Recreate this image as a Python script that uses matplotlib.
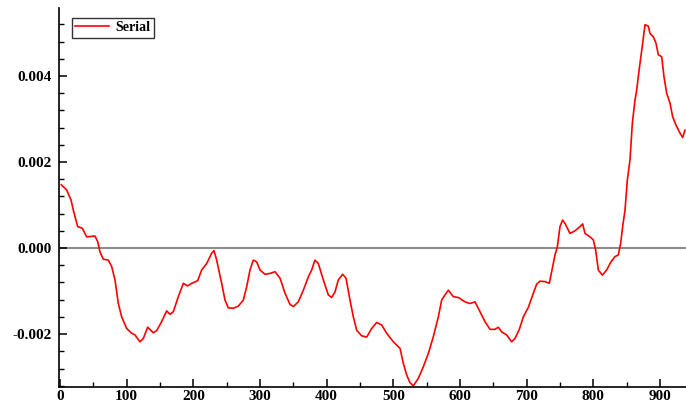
import matplotlib
matplotlib.use("Agg")
import matplotlib.pyplot as plt
from matplotlib.ticker import FixedLocator, MultipleLocator, FormatStrFormatter

x_vals = [2, 10, 16.5, 20, 26.5, 33.5, 40, 52.5, 56.5, 60, 65, 72.5, 77.5, 82.5, 87.5, 92.5,
          100, 107.5, 112.5, 120, 125, 131.5, 140, 145, 152.5, 160, 165, 170, 177.5, 185,
          191.5, 197.5, 206.5, 212.5, 220, 227.5, 231, 235, 242.5, 247.5, 252.5, 260, 267.5,
          275, 280, 285, 290, 295, 300, 307.5, 315, 322.5, 330, 337.5, 345, 350, 357.5, 365,
          372.5, 377.5, 382.5, 387.5, 395, 402.5, 407.5, 412.5, 417.5, 424, 429, 435, 440,
          445, 452.5, 460, 467.5, 475, 482.5, 490, 500, 510, 515, 520, 525, 530, 537.5, 545,
          552.5, 560, 567.5, 572.5, 577.5, 582.5, 590, 597.5, 607.5, 615, 622.5, 630, 637.5,
          645, 652.5, 657.5, 662.5, 670, 677.5, 682.5, 689, 695, 702.5, 710, 715, 720, 727.5,
          734, 737.5, 742.5, 746, 750, 754, 757.5, 765, 772.5, 780, 784, 787.5, 795, 800,
          803.5, 807.5, 813.5, 820, 826.5, 832.5, 837.5, 841, 844, 847.5, 851, 855, 858.5,
          862.5, 865, 869, 874, 877.5, 882.5, 885, 890, 894, 897.5, 902.5, 906, 910, 915, 919,
          924, 930, 934, 937.5]

serial_vals = [0.00147, 0.00135, 0.00112, 0.00088, 0.00050, 0.00046, 0.00026, 0.00028, 0.00015,
               -0.00009, -0.00026, -0.00028, -0.00043, -0.00074, -0.00129, -0.00160, -0.00187,
               -0.00198, -0.00202, -0.00218, -0.00210, -0.00184, -0.00197, -0.00192, -0.00171,
               -0.00146, -0.00154, -0.00148, -0.00113, -0.00082, -0.00088, -0.00082, -0.00076,
               -0.00051, -0.00036, -0.00012, -0.00006, -0.00028, -0.00082, -0.00121, -0.00139,
               -0.00140, -0.00135, -0.00121, -0.00090, -0.00051, -0.00028, -0.00032, -0.00051,
               -0.00061, -0.00059, -0.00055, -0.00070, -0.00105, -0.00131, -0.00136, -0.00125,
               -0.00098, -0.00067, -0.00051, -0.00028, -0.00036, -0.00074, -0.00109, -0.00115,
               -0.00102, -0.00074, -0.00061, -0.00070, -0.00121, -0.00160, -0.00191, -0.00204,
               -0.00207, -0.00187, -0.00173, -0.00179, -0.00198, -0.00218, -0.00233, -0.00268,
               -0.00295, -0.00313, -0.00320, -0.00303, -0.00276, -0.00245, -0.00206, -0.00160,
               -0.00121, -0.00109, -0.00098, -0.00113, -0.00115, -0.00125, -0.00129, -0.00125,
               -0.00148, -0.00171, -0.00189, -0.00189, -0.00184, -0.00195, -0.00202, -0.00218,
               -0.00210, -0.00189, -0.00160, -0.00138, -0.00105, -0.00084, -0.00077, -0.00078,
               -0.00082, -0.00055, -0.00016, 0.00003, 0.00050, 0.00065, 0.00057, 0.00034,
               0.00040, 0.00050, 0.00056, 0.00034, 0.00026, 0.00019, -0.00005, -0.00051,
               -0.00063, -0.00051, -0.00032, -0.00020, -0.00016, 0.00011, 0.00050, 0.00088,
               0.00158, 0.00205, 0.00290, 0.00344, 0.00367, 0.00418, 0.00476, 0.00519, 0.00516,
               0.00499, 0.00491, 0.00476, 0.00449, 0.00445, 0.00398, 0.00360, 0.00337, 0.00305,
               0.00286, 0.00267, 0.00257, 0.00274]

x_ticks = [0, 100, 200, 300, 400, 500, 600, 700, 800, 900]
y_ticks = [-0.002, 0.0, 0.002, 0.004]
series_name = "Serial"

plt.rcParams['font.family'] = ['Liberation Serif', 'DejaVu Serif']
plt.rcParams['font.weight'] = 'bold'

fig = plt.figure(figsize=(6.86, 4.05), dpi=100)
ax = fig.add_axes([59/686, 18/405, 1 - 59/686, (387 - 8)/405])

ax.axhline(0, color='#8c8c8c', lw=1.5, zorder=1)
ax.plot(x_vals, serial_vals, color='red', lw=1.2, label=series_name, zorder=2)

ax.set_xlim(-1.5, 939)
ax.set_ylim(-0.00323, 0.00558)

ax.xaxis.set_major_locator(FixedLocator(x_ticks))
ax.xaxis.set_minor_locator(MultipleLocator(50))
ax.yaxis.set_major_locator(FixedLocator(y_ticks))
ax.yaxis.set_minor_locator(MultipleLocator(0.0004))
ax.yaxis.set_major_formatter(FormatStrFormatter('%.3f'))

for s in ['top', 'right']:
    ax.spines[s].set_visible(False)
for s in ['left', 'bottom']:
    ax.spines[s].set_linewidth(1.2)
    ax.spines[s].set_color('black')

ax.tick_params(which='major', direction='in', length=6, width=1.1, labelsize=11)
ax.tick_params(axis='y', which='major', pad=5)
ax.tick_params(axis='x', which='major', pad=2)
ax.tick_params(which='minor', direction='in', length=3.5, width=1.0)
for lbl in ax.get_xticklabels() + ax.get_yticklabels():
    lbl.set_fontweight('bold')

leg = ax.legend(loc='upper left', bbox_to_anchor=(0.014, 0.985), frameon=True, fancybox=False,
                edgecolor='black', fontsize=10, handlelength=2.4, borderpad=0.25,
                handletextpad=0.5, borderaxespad=0.3)
leg.get_frame().set_linewidth(1.0)
for t in leg.get_texts():
    t.set_fontweight('bold')

fig.savefig('out.png', dpi=100)
